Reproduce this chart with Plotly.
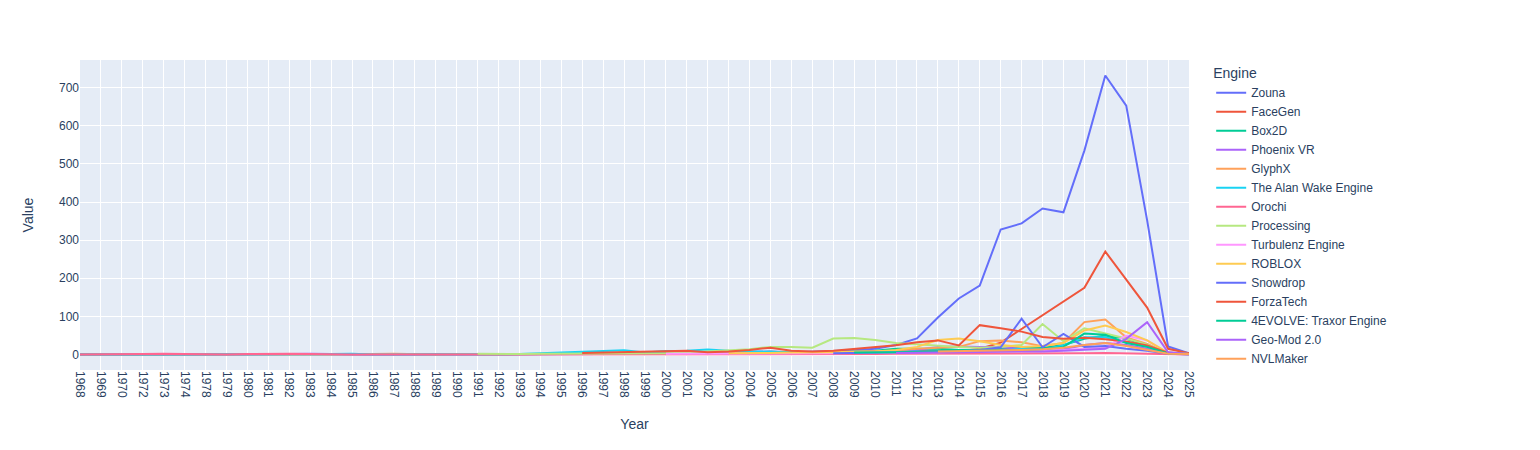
import plotly.graph_objects as go

years = ["1968", "1969", "1970", "1972", "1973", "1974", "1978", "1979",
         "1980", "1981", "1982", "1983", "1984", "1985", "1986", "1987", "1988",
         "1989", "1990", "1991", "1992", "1993", "1994", "1995", "1996",
         "1997", "1998", "1999", "2000", "2001", "2002", "2003", "2004", "2005",
         "2006", "2007", "2008", "2009", "2010", "2011", "2012", "2013", "2014",
         "2015", "2016", "2017", "2018", "2019", "2020", "2021", "2022", "2023",
         "2024", "2025"]

N = None
Z25 = [0] * 25
NONE25 = [None] * 25

# values per engine: first 25 entries = 1968..1996, last 29 entries = 1997..2025
zouna = Z25 + \
        [1, 2, 2, 3, 3, 4, 5, 6, 8, 6, 7, 9, 11, 15, 25, 42, 97, 147, 181, 328, 344, 383, 373, 535, 732, 653, 352, 21, 3]
facegen = [0, 0, 0, 0, 0, 0, 0, 0, 0, 0, 0, 0, 0, 0, 0, 0, 0, 0, 0, 1, 0, 1, 1, 2, 2] + \
          [2, 3, 2, 4, 3, 4, 5, 5, 6, 4, 5, 6, 5, 7, 8, 9, 10, 8, 15, 31, 67, 102, 138, 175, 270, 198, 123, 15, 3]
box2d = [0, 0, 0, 0, 0, 0, 0, 0, 0, 0, 0, 0, 0, 0, 0, 0, 0, 0, 0, 0, 0, 1, 1, 1, 2] + \
        [2, 3, 2, 3, 4, 5, 5, 6, 7, 5, 6, 5, 8, 10, 15, 15, 15, 12, 12, 15, 20, 18, 25, 41, 50, 41, 25, 3, 1]
phoenix_vr = [0, 0, 0, 0, 0, 0, 0, 0, 0, 0, 1, 2, 1, 0, 0, 0, 0, 0, 0, 0, 0, 0, 1, 1, 1] + \
             [1, 2, 2, 3, 2, 3, 3, 4, 4, 3, 4, 5, 6, 8, 10, 12, 20, 21, 20, 19, 15, 12, 14, 25, 30, 25, 15, 2, 0]
glyphx = [0, 0, 0, 0, 0, 0, 0, 0, 0, 0, 0, 0, 0, 0, 1, 2, 1, 0, 1, 1, 0, 0, 1, 1, 2] + \
         [2, 2, 1, 2, 3, 3, 2, 4, 5, 4, 5, 6, 7, 8, 10, 15, 18, 20, 35, 37, 32, 22, 30, 85, 92, 45, 28, 3, 1]
alan_wake = [0, 0, 0, 0, 0, 0, 0, 0, 0, 0, 0, 0, 1, 2, 0, 0, 0, 0, 0, 0, 0, 1, 3, 5, 6] + \
            [9, 11, 5, 9, 10, 13, 10, 8, 6, 5, 5, 4, 5, 6, 7, 8, 8, 9, 10, 10, 15, 12, 24, 45, 45, 32, 20, 3, 0]
orochi = [0, 0, 0, 1, 2, 1, 0, 0, 1, 2, 2, 1, 0, 0, 0, 0, 0, 0, 0, 0, 0, 0, 0, 0, 0] + \
         [0, 1, 0, 1, 1, 1, 1, 1, 1, 1, 1, 1, 1, 1, 2, 2, 2, 2, 2, 2, 3, 3, 3, 3, 4, 3, 2, 1, 0]
processing = [N, N, N, N, N, N, N, N, N, N, N, N, N, N, N, N, N, N, N, 2, 1, 1, 2, 2, 2] + \
             [2, 2, 2, 3, 5, 8, 12, 14, 20, 20, 18, 42, 43, 38, 30, 26, 22, 20, 18, 20, 25, 80, 35, 69, 55, 42, 26, 3, 1]
turbulenz = NONE25 + \
            [N, N, N, 2, 2, 2, 3, 3, 3, 2, 3, 3, 4, 5, 5, 6, 6, 7, 8, 9, 10, 12, 12, 15, 19, 50, 37, 4, 1]
roblox = NONE25 + \
         [N, N, N, N, N, N, 3, 3, 4, 5, 5, 6, 7, 8, 12, 20, 38, 42, 35, 25, 20, 22, 30, 63, 76, 59, 37, 4, 1]
snowdrop = NONE25 + \
           [N, N, N, N, N, N, N, N, N, N, N, 3, 4, 5, 5, 6, 7, 8, 12, 19, 94, 19, 54, 20, 22, 15, 10, 2, 1]
forzatech = [N, N, N, N, N, N, N, N, N, N, N, N, N, N, N, N, N, N, N, N, N, N, N, N, 4] + \
            [5, 6, 6, 8, 10, 6, 8, 12, 18, 10, 8, 10, 14, 19, 24, 32, 37, 24, 77, 69, 60, 46, 41, 44, 40, 34, 24, 5, 1]
evolve = NONE25 + \
         [N, N, N, N, N, N, N, N, N, N, N, N, 5, 5, 6, 7, 8, 8, 9, 10, 12, 14, 20, 55, 52, 30, 20, 3, 1]
geomod = NONE25 + \
         [N, N, N, N, N, N, N, N, N, N, N, N, N, N, 4, 4, 5, 6, 6, 7, 8, 8, 10, 12, 15, 41, 85, 6, 1]
nvlmaker = NONE25 + \
           [N, N, N, N, N, N, N, N, N, N, N, N, N, N, N, N, 8, 9, 10, 10, 12, 14, 18, 25, 30, 22, 12, 2, 1]

engines = ["Zouna", "FaceGen", "Box2D", "Phoenix VR", "GlyphX", "The Alan Wake Engine",
           "Orochi", "Processing", "Turbulenz Engine", "ROBLOX", "Snowdrop", "ForzaTech",
           "4EVOLVE: Traxor Engine", "Geo-Mod 2.0", "NVLMaker"]
series = [zouna, facegen, box2d, phoenix_vr, glyphx, alan_wake, orochi, processing,
          turbulenz, roblox, snowdrop, forzatech, evolve, geomod, nvlmaker]

palette = ["#636efa", "#EF553B", "#00cc96", "#ab63fa", "#FFA15A",
           "#19d3f3", "#FF6692", "#B6E880", "#FF97FF", "#FECB52"]

fig = go.Figure()
for i, (name, vals) in enumerate(zip(engines, series)):
    assert len(vals) == len(years), name
    fig.add_trace(go.Scatter(x=years, y=vals, mode="lines", name=name,
                             line=dict(color=palette[i % 10], width=2)))

fig.update_layout(
    template="plotly",
    width=1524, height=434,
    font=dict(family="Arial"),
    margin=dict(l=72, r=343, t=52, b=72),
    legend=dict(title=dict(text="Engine"), tracegroupgap=0, maxheight=1000),
    xaxis=dict(title=dict(text="Year", standoff=22), type="category",
               categoryorder="array", categoryarray=years, tickangle=90),
    yaxis=dict(title=dict(text="Value", standoff=22)),
)

fig.write_html("out.html")
